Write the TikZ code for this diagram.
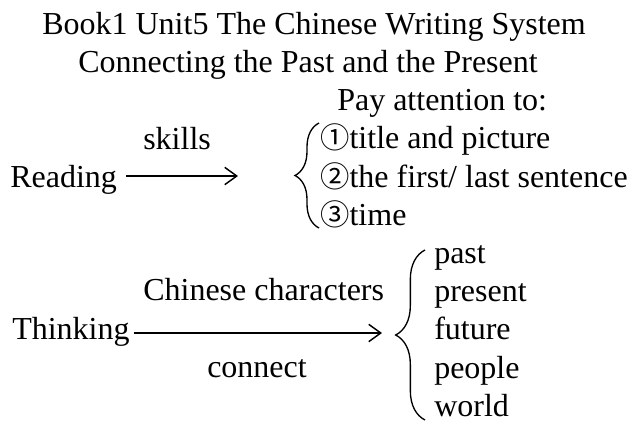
\documentclass[tikz,border=0pt]{standalone}
\usepackage{fontspec}
\setmainfont{Liberation Serif}
\newfontfamily\circfont{Noto Sans CJK SC}
\newcommand\cnum[1]{\makebox[22pt][l]{\circfont\fontsize{22pt}{26pt}\selectfont #1}}
\usetikzlibrary{arrows.meta,decorations.pathreplacing}
\begin{document}
\begin{tikzpicture}[x=0.75pt,y=-0.75pt,
  txt/.style={inner sep=0pt,anchor=base west,font=\fontsize{24pt}{28pt}\selectfont},
  arr/.style={line width=1.1pt,-{Straight Barb[length=9pt,width=13pt,line width=1.1pt]}},
  brc/.style={line width=1pt,decorate,decoration={brace,amplitude=#1}}]
\useasboundingbox (0,0) rectangle (640,422);
\node[txt] (t1) at (42,34) {Book1 Unit5 The Chinese Writing System};
\node[txt] (t2) at (78,72) {Connecting the Past and the Present};
\node[txt] (pay) at (337,110) {Pay attention to:};
\node[txt] (skills) at (143,149) {skills};
\node[txt] (reading) at (10,187) {Reading};
\coordinate (a1) at (238,176);
\draw[arr] (reading.east |- a1) ++(9,0) coordinate (a1s) (a1s) -- (a1);
\draw[brc=18pt] (319,228) -- (319,123);
\node[txt] (i1) at (320,148) {\cnum{①}title and picture};
\node[txt] (i2) at (320,187) {\cnum{②}the first/ last sentence};
\node[txt] (i3) at (320,225) {\cnum{③}time};
\node[txt] (cc) at (143,300) {Chinese characters};
\node[txt] (thinking) at (12,339) {Thinking};
\node[txt] (connect) at (207,377) {connect};
\coordinate (a2) at (382,333);
\draw[arr] (thinking.east |- a2) ++(4,0) coordinate (a2s) (a2s) -- (a2);
\draw[brc=22pt] (425,420) -- (425,250);
\node[txt] (p1) at (434,263) {past};
\node[txt] (p2) at (434,301) {present};
\node[txt] (p3) at (434,339.5) {future};
\node[txt] (p4) at (434,378) {people};
\node[txt] (p5) at (434,416.5) {world};
\end{tikzpicture}
\end{document}
